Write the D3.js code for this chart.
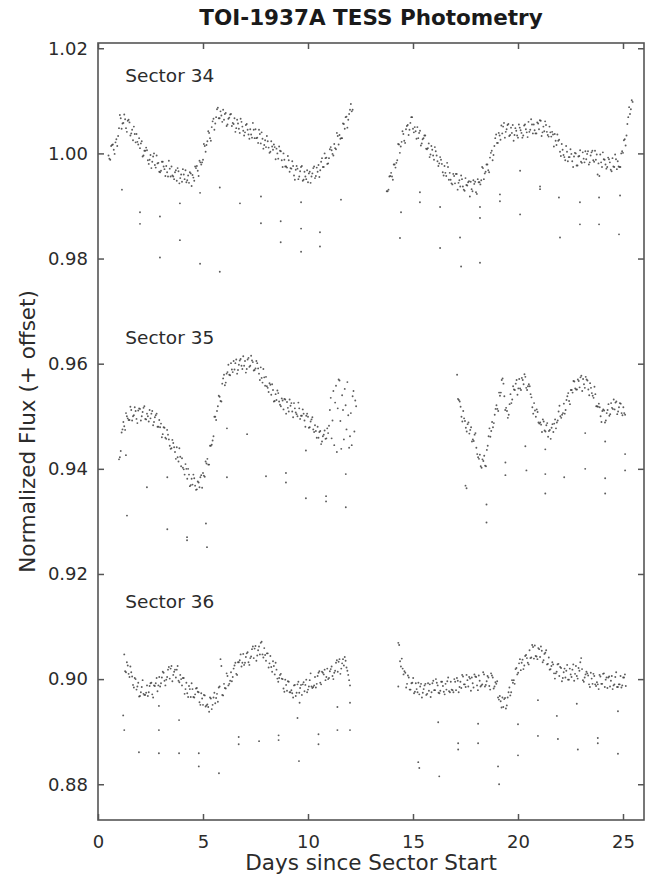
<!DOCTYPE html>
<html>
<head>
<meta charset="utf-8">
<script src="https://cdn.jsdelivr.net/npm/d3@7/dist/d3.min.js"></script>
<style>
  html, body { margin: 0; padding: 0; background: #ffffff; }
  svg { display: block; }
  text { font-family: "DejaVu Sans", sans-serif; }
</style>
</head>
<body>
<svg id="chart" width="655" height="878"></svg>
<script>
// TESS light curves of TOI-1937A, three sectors stacked with flux offsets.
// Each orbit is stored as two interleaved cadence series (A and B, half a step apart).
const cadenceDays = 1 / 12;

const sectorNames = ["Sector 34", "Sector 35", "Sector 36"];

// ---------- Sector 34 (no offset) ----------
const s34Orbit1Start = 0.5;
const s34Orbit1FluxA = [
  0.9996,0.9988,1.0016,1.0007,1.0021,1.0014,
  1.0048,1.0067,1.0057,1.0074,1.0048,1.0062,
  1.0059,1.0038,1.0025,1.0037,1.0037,1.0017,
  1.0010,1.0023,0.9996,1.0005,1.0006,0.9980,
  0.9997,0.9984,1.0000,0.9973,0.9981,0.9965,
  0.9967,0.9984,0.9970,0.9976,0.9956,0.9971,
  0.9975,0.9956,0.9964,0.9948,0.9966,0.9953,
  0.9946,0.9960,0.9968,0.9949,0.9944,0.9962,
  0.9959,0.9948,0.9972,0.9967,0.9986,0.9979,
  0.9988,1.0014,1.0016,1.0042,1.0029,1.0050,
  1.0066,1.0057,1.0084,1.0067,1.0080,1.0060,
  1.0064,1.0077,1.0055,1.0068,1.0075,1.0058,
  1.0067,1.0048,1.0057,1.0039,1.0060,1.0043,
  1.0040,1.0056,1.0036,1.0046,1.0030,1.0045,
  1.0046,1.0030,1.0045,1.0019,1.0028,1.0016,
  1.0012,1.0023,1.0001,1.0023,1.0007,1.0012,
  1.0009,0.9990,1.0005,0.9987,1.0000,0.9975,
  0.9973,0.9987,0.9972,0.9985,0.9958,0.9969,
  0.9971,0.9956,0.9974,0.9948,0.9965,0.9951,
  0.9945,0.9965,0.9956,0.9972,0.9953,0.9973,
  0.9978,0.9968,0.9991,0.9974,0.9991,0.9980,
  0.9991,1.0012,0.9999,1.0018,1.0008,1.0033,
  1.0035,1.0029,1.0057,1.0047,1.0070,1.0064,
  1.0083,1.0080
];
const s34Orbit1FluxB = [
  0.9990,1.0014,1.0017,0.9999,1.0027,1.0033,
  1.0073,1.0047,1.0058,1.0065,1.0041,1.0064,
  1.0034,1.0045,1.0051,1.0021,1.0022,1.0029,
  1.0019,0.9994,1.0005,1.0011,0.9987,0.9988,
  0.9972,0.9994,0.9978,0.9996,0.9982,0.9964,
  0.9984,0.9975,0.9957,0.9964,0.9986,0.9956,
  0.9958,0.9951,0.9968,0.9972,0.9943,0.9960,
  0.9970,0.9951,0.9945,0.9958,0.9964,0.9938,
  0.9954,0.9975,0.9976,0.9957,0.9983,0.9983,
  1.0018,1.0003,1.0023,1.0039,1.0024,1.0061,
  1.0045,1.0069,1.0087,1.0067,1.0072,1.0083,
  1.0075,1.0052,1.0066,1.0074,1.0052,1.0056,
  1.0041,1.0064,1.0047,1.0066,1.0051,1.0034,
  1.0054,1.0045,1.0028,1.0036,1.0058,1.0029,
  1.0029,1.0020,1.0037,1.0040,1.0009,1.0025,
  1.0033,1.0011,1.0003,1.0013,1.0017,0.9989,
  1.0000,1.0013,1.0004,0.9974,0.9988,0.9975,
  0.9995,0.9965,0.9971,0.9976,0.9950,0.9976,
  0.9951,0.9966,0.9976,0.9950,0.9956,0.9968,
  0.9962,0.9944,0.9962,0.9975,0.9957,0.9965,
  0.9955,0.9984,0.9974,1.0000,0.9992,0.9981,
  1.0008,1.0006,0.9996,1.0010,1.0039,1.0017,
  1.0028,1.0029,1.0056,1.0069,1.0049,1.0075,
  1.0094,1.0083
];
const s34Orbit2Start = 13.75;
const s34Orbit2FluxA = [
  0.9928,0.9931,0.9957,0.9956,0.9979,0.9973,
  0.9987,1.0017,1.0013,1.0042,1.0024,1.0046,
  1.0054,1.0045,1.0069,1.0047,1.0050,1.0028,
  1.0029,1.0043,1.0019,1.0029,1.0034,1.0008,
  1.0019,0.9998,1.0007,0.9988,1.0004,0.9985,
  0.9981,0.9988,0.9964,0.9976,0.9957,0.9974,
  0.9963,0.9943,0.9961,0.9943,0.9961,0.9944,
  0.9937,0.9951,0.9931,0.9953,0.9939,0.9947,
  0.9946,0.9928,0.9942,0.9926,0.9951,0.9945,
  0.9949,0.9972,0.9962,0.9979,0.9968,0.9992,
  1.0005,0.9997,1.0029,1.0020,1.0039,1.0026,
  1.0038,1.0058,1.0041,1.0054,1.0033,1.0049,
  1.0054,1.0035,1.0043,1.0030,1.0049,1.0039,
  1.0034,1.0055,1.0040,1.0060,1.0045,1.0055,
  1.0055,1.0038,1.0059,1.0046,1.0062,1.0040,
  1.0042,1.0054,1.0035,1.0051,1.0032,1.0036,
  1.0037,1.0016,1.0024,1.0003,1.0018,0.9997,
  0.9987,1.0003,0.9993,1.0008,0.9985,0.9994,
  1.0000,0.9977,0.9995,0.9984,1.0002,0.9983,
  0.9989,1.0004,0.9983,1.0002,0.9987,1.0005,
  0.9998,0.9981,0.9998,0.9974,0.9989,0.9979,
  0.9974,0.9989,0.9969,0.9991,0.9974,0.9989,
  0.9985,0.9974,1.0000,1.0001,1.0027,1.0034,
  1.0069,1.0075,1.0101
];
const s34Orbit2FluxB = [
  0.9928,0.9956,0.9963,0.9950,0.9979,0.9982,
  1.0018,1.0001,1.0022,1.0037,1.0020,1.0052,
  1.0035,1.0058,1.0069,1.0040,1.0042,1.0050,
  1.0039,1.0015,1.0027,1.0034,1.0009,1.0010,
  0.9993,1.0014,0.9996,1.0012,0.9996,0.9976,
  0.9993,0.9980,0.9958,0.9963,0.9982,0.9950,
  0.9950,0.9941,0.9957,0.9961,0.9931,0.9949,
  0.9958,0.9937,0.9929,0.9940,0.9945,0.9918,
  0.9932,0.9949,0.9946,0.9923,0.9945,0.9941,
  0.9974,0.9951,0.9965,0.9979,0.9964,1.0001,
  0.9987,1.0014,1.0036,1.0020,1.0034,1.0053,
  1.0051,1.0030,1.0046,1.0056,1.0035,1.0039,
  1.0024,1.0048,1.0034,1.0055,1.0044,1.0030,
  1.0053,1.0046,1.0031,1.0041,1.0065,1.0038,
  1.0044,1.0038,1.0057,1.0063,1.0033,1.0051,
  1.0061,1.0041,1.0032,1.0040,1.0041,1.0013,
  1.0024,1.0036,1.0026,0.9995,1.0007,0.9993,
  1.0014,0.9985,0.9993,0.9999,0.9974,1.0001,
  0.9977,0.9994,1.0006,0.9982,0.9990,1.0004,
  0.9999,0.9979,0.9996,1.0005,0.9984,0.9988,
  0.9960,0.9957,0.9983,1.0002,0.9988,0.9971,
  0.9992,0.9983,0.9966,0.9975,0.9998,0.9970,
  0.9975,0.9974,1.0004,1.0025,1.0015,1.0056,
  1.0088,1.0084,1.0098
];
const s34OutlierDays = [1.14, 2.0, 2.0, 2.95, 2.95, 3.9, 3.9, 4.86, 4.86, 5.8, 5.8, 6.76,
  7.76, 7.76, 8.7, 8.7, 9.67, 9.67, 9.67, 10.57, 10.57, 11.57,
  14.43, 14.38, 15.33, 15.33, 16.29, 16.29, 17.24, 17.29, 18.19, 18.19, 18.19,
  19.14, 19.14, 20.1, 20.1, 21.05, 21.05, 21.95, 22.0, 22.95, 22.95,
  23.86, 23.86, 24.86, 24.81];
const s34OutlierFlux = [0.9931, 0.9888, 0.9866, 0.9880, 0.9802, 0.9905, 0.9835, 0.9925, 0.9790, 0.9935, 0.9775, 0.9905,
  0.9918, 0.9867, 0.9871, 0.9831, 0.9907, 0.9857, 0.9813, 0.9850, 0.9823, 0.9912,
  0.9888, 0.9839, 0.9926, 0.9907, 0.9898, 0.9820, 0.9840, 0.9785, 0.9898, 0.9877, 0.9792,
  0.9922, 0.9909, 0.9967, 0.9884, 0.9937, 0.9932, 0.9916, 0.9840, 0.9907, 0.9865,
  0.9916, 0.9865, 0.9920, 0.9846];

// ---------- Sector 35 (offset -0.05) ----------
const s35Orbit1Start = 1.0;
const s35Orbit1FluxA = [
  0.9418,0.9434,0.9475,0.9481,0.9506,0.9496,
  0.9493,0.9512,0.9500,0.9517,0.9495,0.9511,
  0.9514,0.9500,0.9516,0.9495,0.9505,0.9490,
  0.9496,0.9510,0.9489,0.9502,0.9480,0.9493,
  0.9486,0.9466,0.9478,0.9457,0.9465,0.9444,
  0.9439,0.9449,0.9432,0.9441,0.9414,0.9423,
  0.9420,0.9399,0.9409,0.9381,0.9389,0.9369,
  0.9370,0.9382,0.9360,0.9376,0.9365,0.9388,
  0.9392,0.9385,0.9410,0.9408,0.9444,0.9446,
  0.9462,0.9499,0.9510,0.9539,0.9529,0.9562,
  0.9579,0.9564,0.9584,0.9579,0.9601,0.9584,
  0.9589,0.9608,0.9588,0.9606,0.9596,0.9614,
  0.9605,0.9590,0.9611,0.9596,0.9606,0.9587,
  0.9591,0.9601,0.9581,0.9593,0.9564,0.9574,
  0.9575,0.9554,0.9563,0.9541,0.9550,0.9529,
  0.9531,0.9544,0.9522,0.9534,0.9513,0.9532,
  0.9527,0.9509,0.9520,0.9509,0.9525,0.9507,
  0.9500,0.9515,0.9501,0.9513,0.9492,0.9501,
  0.9499,0.9479,0.9494,0.9475,0.9483,0.9459,
  0.9459,0.9472,0.9452,0.9465,0.9457,0.9477,
  0.9482,0.9535,0.9492,0.9445,0.9558,0.9515,
  0.9568,0.9438,0.9512,0.9552,0.9475,0.9502,
  0.9462,0.9445,0.9548,0.9530
];
const s35Orbit1FluxB = [
  0.9422,0.9469,0.9489,0.9474,0.9500,0.9493,
  0.9518,0.9492,0.9502,0.9510,0.9487,0.9515,
  0.9492,0.9508,0.9519,0.9494,0.9500,0.9512,
  0.9505,0.9483,0.9498,0.9505,0.9480,0.9479,
  0.9460,0.9479,0.9459,0.9474,0.9456,0.9438,
  0.9455,0.9441,0.9419,0.9422,0.9439,0.9405,
  0.9402,0.9389,0.9400,0.9400,0.9367,0.9381,
  0.9389,0.9368,0.9361,0.9374,0.9384,0.9364,
  0.9387,0.9414,0.9419,0.9408,0.9444,0.9454,
  0.9499,0.9493,0.9519,0.9537,0.9528,0.9572,
  0.9559,0.9581,0.9598,0.9578,0.9589,0.9605,
  0.9601,0.9581,0.9598,0.9609,0.9590,0.9596,
  0.9583,0.9608,0.9594,0.9615,0.9603,0.9588,
  0.9605,0.9591,0.9569,0.9573,0.9590,0.9558,
  0.9557,0.9546,0.9560,0.9561,0.9528,0.9542,
  0.9549,0.9528,0.9519,0.9530,0.9533,0.9505,
  0.9516,0.9532,0.9525,0.9498,0.9515,0.9504,
  0.9526,0.9495,0.9501,0.9505,0.9480,0.9505,
  0.9478,0.9490,0.9498,0.9470,0.9472,0.9480,
  0.9470,0.9447,0.9462,0.9473,0.9458,0.9468,
  0.9512,0.9458,0.9548,0.9526,0.9432,0.9570,
  0.9491,0.9540,0.9456,0.9521,0.9565,0.9440,
  0.9506,0.9538,0.9471,0.9519
];
const s35Orbit2Start = 17.1;
const s35Orbit2FluxA = [
  0.9579,0.9531,0.9518,0.9490,0.9496,0.9478,
  0.9485,0.9467,0.9479,0.9456,0.9465,0.9440,
  0.9422,0.9427,0.9402,0.9415,0.9406,0.9436,
  0.9462,0.9461,0.9489,0.9487,0.9514,0.9514,
  0.9545,0.9545,0.9572,0.9538,0.9516,0.9497,
  0.9523,0.9525,0.9557,0.9550,0.9569,0.9553,
  0.9553,0.9573,0.9561,0.9575,0.9550,0.9561,
  0.9542,0.9517,0.9525,0.9499,0.9508,0.9486,
  0.9484,0.9494,0.9473,0.9483,0.9461,0.9474,
  0.9478,0.9470,0.9494,0.9488,0.9509,0.9500,
  0.9503,0.9524,0.9512,0.9538,0.9529,0.9550,
  0.9545,0.9566,0.9551,0.9570,0.9555,0.9577,
  0.9571,0.9554,0.9570,0.9551,0.9563,0.9544,
  0.9535,0.9542,0.9519,0.9524,0.9500,0.9510,
  0.9511,0.9492,0.9512,0.9501,0.9525,0.9514,
  0.9513,0.9528,0.9509,0.9525,0.9506,0.9517,
  0.9503
];
const s35Orbit2FluxB = [
  0.9533,0.9528,0.9499,0.9510,0.9491,0.9471,
  0.9488,0.9474,0.9452,0.9453,0.9468,0.9428,
  0.9419,0.9405,0.9418,0.9425,0.9405,0.9444,
  0.9477,0.9472,0.9479,0.9503,0.9521,0.9510,
  0.9539,0.9569,0.9562,0.9512,0.9510,0.9503,
  0.9542,0.9532,0.9551,0.9562,0.9541,0.9571,
  0.9550,0.9569,0.9580,0.9554,0.9557,0.9557,
  0.9536,0.9505,0.9511,0.9513,0.9488,0.9488,
  0.9470,0.9490,0.9471,0.9487,0.9472,0.9457,
  0.9485,0.9486,0.9477,0.9492,0.9520,0.9497,
  0.9506,0.9505,0.9531,0.9544,0.9523,0.9550,
  0.9567,0.9553,0.9551,0.9567,0.9574,0.9548,
  0.9561,0.9575,0.9568,0.9540,0.9554,0.9539,
  0.9556,0.9519,0.9518,0.9517,0.9489,0.9513,
  0.9488,0.9506,0.9523,0.9504,0.9516,0.9532,
  0.9526,0.9504,0.9517,0.9524,0.9502,0.9506
];
const s35OutlierDays = [1.33, 1.38, 2.33, 3.3, 3.3, 4.24, 4.24, 5.14, 5.19, 6.14, 6.14, 7.1,
  8.0, 8.95, 8.95, 9.9, 9.9, 10.86, 10.86, 11.8, 11.8,
  17.5, 17.55, 18.5, 18.5, 19.4, 19.4, 20.35, 20.4, 21.3, 21.3, 21.3, 22.2,
  23.2, 23.2, 24.15, 24.15, 24.15, 25.1, 25.1];
const s35OutlierFlux = [0.9426, 0.9311, 0.9365, 0.9384, 0.9285, 0.9270, 0.9264, 0.9296, 0.9251, 0.9477, 0.9384, 0.9466,
  0.9386, 0.9392, 0.9374, 0.9344, 0.9435, 0.9348, 0.9338, 0.9390, 0.9327,
  0.9368, 0.9363, 0.9332, 0.9298, 0.9412, 0.9388, 0.9443, 0.9397, 0.9437, 0.9390, 0.9353, 0.9384,
  0.9468, 0.9400, 0.9452, 0.9382, 0.9353, 0.9428, 0.9397];

// ---------- Sector 36 (offset -0.10) ----------
const s36Orbit1Start = 1.25;
const s36Orbit1FluxA = [
  0.9047,0.9013,0.9026,0.9004,0.9013,0.8989,
  0.9002,0.8980,0.8993,0.8968,0.8985,0.8972,
  0.8970,0.8988,0.8975,0.8992,0.8971,0.8988,
  0.8992,0.8977,0.9004,0.8992,0.9014,0.8997,
  0.8999,0.9018,0.9001,0.9025,0.9008,0.9018,
  0.9018,0.8997,0.9008,0.8988,0.9002,0.8981,
  0.8973,0.8987,0.8966,0.8981,0.8965,0.8982,
  0.8976,0.8956,0.8973,0.8951,0.8969,0.8950,
  0.8947,0.8965,0.8943,0.8965,0.8954,0.8972,
  0.8984,0.9038,0.8970,0.8991,0.8982,0.9006,
  0.8991,0.9013,0.9004,0.9026,0.9010,0.9032,
  0.9036,0.9024,0.9048,0.9031,0.9049,0.9032,
  0.9040,0.9057,0.9040,0.9063,0.9045,0.9062,
  0.9069,0.9047,0.9059,0.9035,0.9049,0.9030,
  0.9023,0.9034,0.9009,0.9018,0.8995,0.9008,
  0.9001,0.8982,0.8999,0.8978,0.8995,0.8975,
  0.8973,0.8988,0.8968,0.8990,0.8974,0.8989,
  0.8990,0.8977,0.8999,0.8980,0.8998,0.8986,
  0.8985,0.9004,0.8991,0.9012,0.8993,0.9014,
  0.9009,0.8998,0.9020,0.9002,0.9019,0.9006,
  0.9012,0.9031,0.9014,0.9038,0.9020,0.9038,
  0.9042,0.9022,0.9008,0.8988
];
const s36Orbit1FluxB = [
  0.9015,0.9032,0.9010,0.9024,0.9005,0.8984,
  0.9000,0.8986,0.8967,0.8975,0.8998,0.8970,
  0.8974,0.8968,0.8987,0.8993,0.8965,0.8987,
  0.9002,0.8988,0.8986,0.9003,0.9012,0.8988,
  0.9004,0.9023,0.9020,0.8996,0.9014,0.9003,
  0.9025,0.8994,0.9000,0.9002,0.8972,0.8993,
  0.8966,0.8981,0.8992,0.8966,0.8971,0.8983,
  0.8975,0.8951,0.8963,0.8970,0.8948,0.8952,
  0.8938,0.8963,0.8951,0.8974,0.8964,0.8957,
  0.8986,0.9025,0.8969,0.8983,0.9011,0.8988,
  0.8997,0.8996,0.9020,0.9031,0.9008,0.9032,
  0.9047,0.9031,0.9027,0.9042,0.9051,0.9027,
  0.9043,0.9062,0.9058,0.9035,0.9055,0.9047,
  0.9071,0.9041,0.9046,0.9049,0.9022,0.9044,
  0.9014,0.9025,0.9031,0.9001,0.9002,0.9010,
  0.9000,0.8976,0.8989,0.8996,0.8975,0.8979,
  0.8965,0.8989,0.8974,0.8995,0.8983,0.8970,
  0.8994,0.8989,0.8975,0.8986,0.9011,0.8983,
  0.8988,0.8984,0.9006,0.9015,0.8990,0.9012,
  0.9018,0.9004,0.9000,0.9015,0.9024,0.9000,
  0.9016,0.9036,0.9033,0.9010,0.9030,0.9026,
  0.9035,0.9016,0.8998
];
const s36Orbit2Start = 14.3;
const s36Orbit2FluxA = [
  0.9069,0.9034,0.9039,0.9009,0.9012,0.8991,
  0.9003,0.8980,0.8993,0.8973,0.8992,0.8975,
  0.8971,0.8991,0.8974,0.8988,0.8970,0.8992,
  0.8990,0.8975,0.8997,0.8979,0.8993,0.8974,
  0.8978,0.8995,0.8976,0.8991,0.8996,0.8977,
  0.8995,0.8979,0.9000,0.8979,0.8997,0.8985,
  0.8983,0.9005,0.8990,0.9008,0.8986,0.9001,
  0.9003,0.8984,0.9005,0.8988,0.9007,0.8986,
  0.8990,0.9009,0.8989,0.9006,0.8987,0.9011,
  0.9003,0.8986,0.8991,0.8965,0.8968,0.8946,
  0.8947,0.8964,0.8950,0.8975,0.8969,0.8998,
  0.8998,0.9019,0.9009,0.9030,0.9017,0.9037,
  0.9026,0.9046,0.9031,0.9055,0.9041,0.9061,
  0.9064,0.9043,0.9059,0.9042,0.9054,0.9036,
  0.9050,0.9028,0.9041,0.9019,0.9032,0.9011,
  0.9011,0.9028,0.9006,0.9021,0.9002,0.9020,
  0.9016,0.8999,0.9020,0.9004,0.9028,0.9010,
  0.9006,0.9021,0.9032,0.9019,0.8995,0.9009,
  0.9011,0.8990,0.9012,0.8991,0.9006,0.8987,
  0.8990,0.9008,0.8991,0.9010,0.8985,0.9003,
  0.9003,0.8986,0.9006,0.8988,0.9004,0.8985,
  0.8990,0.9006,0.8988,0.9003,0.8987
];
const s36Orbit2FluxB = [
  0.9065,0.9024,0.9020,0.9015,0.8984,0.9007,
  0.8980,0.8992,0.9002,0.8976,0.8981,0.8993,
  0.8986,0.8965,0.8981,0.8991,0.8972,0.8978,
  0.8966,0.8992,0.8979,0.9000,0.8988,0.8973,
  0.8995,0.8987,0.8971,0.8980,0.9003,0.8975,
  0.8980,0.8975,0.8995,0.9002,0.8975,0.8995,
  0.9008,0.8990,0.8985,0.8998,0.9004,0.8978,
  0.8992,0.9009,0.9004,0.8979,0.8997,0.8988,
  0.9013,0.8986,0.8996,0.9003,0.8980,0.9007,
  0.8982,0.8994,0.8996,0.8961,0.8958,0.8965,
  0.8962,0.8944,0.8965,0.8984,0.8975,0.8993,
  0.8991,0.9021,0.9012,0.9038,0.9031,0.9019,
  0.9044,0.9040,0.9028,0.9040,0.9065,0.9039,
  0.9044,0.9038,0.9057,0.9062,0.9032,0.9048,
  0.9055,0.9029,0.9018,0.9025,0.9028,0.9001,
  0.9014,0.9029,0.9023,0.8996,0.9013,0.9003,
  0.9027,0.8999,0.9009,0.9018,0.8997,0.9025,
  0.9001,0.9016,0.9040,0.8998,0.9003,0.9014,
  0.9007,0.8985,0.9001,0.9010,0.8990,0.8994,
  0.8981,0.9005,0.8991,0.9011,0.8999,0.8983,
  0.9005,0.8997,0.8981,0.8990,0.9013,0.8985,
  0.8990,0.8984,0.9003,0.9009
];
const s36OutlierDays = [1.2, 1.25, 1.95, 2.9, 2.9, 2.9, 3.86, 3.86, 4.8, 4.8, 5.76, 6.7, 6.7,
  7.67, 8.6, 8.6, 9.5, 9.57, 9.6, 10.5, 10.5, 11.4, 11.4, 12.0, 12.0,
  14.3, 15.25, 15.3, 16.2, 16.25, 17.15, 17.15, 18.1, 18.1, 19.05, 19.1,
  20.0, 20.0, 20.95, 20.95, 21.85, 21.9, 22.8, 22.85, 23.8, 23.8, 24.76, 24.76];
const s36OutlierFlux = [0.8931, 0.8903, 0.8861, 0.8949, 0.8903, 0.8859, 0.8922, 0.8859, 0.8859, 0.8834, 0.8821, 0.8890, 0.8876,
  0.8882, 0.8893, 0.8884, 0.8926, 0.8844, 0.8955, 0.8895, 0.8876, 0.8947, 0.8903, 0.8955, 0.8903,
  0.8986, 0.8842, 0.8831, 0.8918, 0.8815, 0.8878, 0.8866, 0.8915, 0.8878, 0.8834, 0.8800,
  0.8914, 0.8855, 0.8960, 0.8892, 0.8930, 0.8886, 0.8953, 0.8866, 0.8888, 0.8878, 0.8939, 0.8858];

const xTickValues = [0, 5, 10, 15, 20, 25];
const yTickValues = [0.88, 0.90, 0.92, 0.94, 0.96, 0.98, 1.00, 1.02];

// ---------- point list ----------
function orbitPoints(start, fluxes, phase) {
  return fluxes.map((f, i) => ({ t: start + (i + phase) * cadenceDays, f }));
}
function pairPoints(days, fluxes) {
  return days.map((t, i) => ({ t, f: fluxes[i] }));
}
const points = [].concat(
  orbitPoints(s34Orbit1Start, s34Orbit1FluxA, 0),
  orbitPoints(s34Orbit1Start, s34Orbit1FluxB, 0.5),
  orbitPoints(s34Orbit2Start, s34Orbit2FluxA, 0),
  orbitPoints(s34Orbit2Start, s34Orbit2FluxB, 0.5),
  pairPoints(s34OutlierDays, s34OutlierFlux),
  orbitPoints(s35Orbit1Start, s35Orbit1FluxA, 0),
  orbitPoints(s35Orbit1Start, s35Orbit1FluxB, 0.5),
  orbitPoints(s35Orbit2Start, s35Orbit2FluxA, 0),
  orbitPoints(s35Orbit2Start, s35Orbit2FluxB, 0.5),
  pairPoints(s35OutlierDays, s35OutlierFlux),
  orbitPoints(s36Orbit1Start, s36Orbit1FluxA, 0),
  orbitPoints(s36Orbit1Start, s36Orbit1FluxB, 0.5),
  orbitPoints(s36Orbit2Start, s36Orbit2FluxA, 0),
  orbitPoints(s36Orbit2Start, s36Orbit2FluxB, 0.5),
  pairPoints(s36OutlierDays, s36OutlierFlux)
);

// ---------- layout ----------
const svg = d3.select("#chart");
const margin = { left: 98, top: 43, right: 11, bottom: 58 };
const W = 655, H = 878;
const plotW = W - margin.left - margin.right;
const plotH = H - margin.top - margin.bottom;

const x = d3.scaleLinear().domain([0, 26]).range([0, plotW]);
const y = d3.scaleLinear().domain([0.8732, 1.0210]).range([plotH, 0]);

const g = svg.append("g").attr("transform", `translate(${margin.left},${margin.top})`);

const axisColor = "#555555";
const textColor = "#2b2b2b";

// data points
g.append("g")
  .selectAll("circle")
  .data(points)
  .join("circle")
  .attr("cx", d => x(d.t))
  .attr("cy", d => y(d.f))
  .attr("r", 0.95)
  .attr("fill", "#404040")
  .attr("fill-opacity", 0.85);

// axes with inward ticks on all four sides
function styleAxis(sel) {
  sel.select(".domain").remove();
  sel.selectAll(".tick line").attr("stroke", axisColor).attr("stroke-width", 1.5);
  sel.selectAll(".tick text")
    .attr("fill", textColor)
    .style("font-family", "'DejaVu Sans', sans-serif")
    .style("font-size", "18px");
}

g.append("g")
  .attr("transform", `translate(0,${plotH})`)
  .call(d3.axisBottom(x).tickValues(xTickValues).tickSize(-6).tickPadding(15).tickFormat(d3.format("d")))
  .call(styleAxis);

g.append("g")
  .call(d3.axisTop(x).tickValues(xTickValues).tickSize(-6).tickFormat(""))
  .call(styleAxis);

g.append("g")
  .call(d3.axisLeft(y).tickValues(yTickValues).tickSize(-6).tickPadding(10).tickFormat(d3.format(".2f")))
  .call(styleAxis);

g.append("g")
  .attr("transform", `translate(${plotW},0)`)
  .call(d3.axisRight(y).tickValues(yTickValues).tickSize(-6).tickFormat(""))
  .call(styleAxis);

// frame
g.append("rect")
  .attr("x", 0).attr("y", 0)
  .attr("width", plotW).attr("height", plotH)
  .attr("fill", "none")
  .attr("stroke", axisColor)
  .attr("stroke-width", 1.6);

// sector labels
const sectorLabelFlux = [1.0136, 0.9637, 0.9135];
g.selectAll(".sector-label")
  .data(sectorNames)
  .join("text")
  .attr("class", "sector-label")
  .attr("x", x(1.3))
  .attr("y", (d, i) => y(sectorLabelFlux[i]))
  .attr("fill", textColor)
  .style("font-size", "18.5px")
  .text(d => d);

// axis titles
svg.append("text")
  .attr("x", margin.left + plotW / 2)
  .attr("y", 870)
  .attr("text-anchor", "middle")
  .attr("fill", textColor)
  .style("font-size", "21.5px")
  .text("Days since Sector Start");

svg.append("text")
  .attr("transform", `translate(35,${margin.top + plotH / 2}) rotate(-90)`)
  .attr("text-anchor", "middle")
  .attr("fill", textColor)
  .style("font-size", "21.5px")
  .text("Normalized Flux (+ offset)");

// title
svg.append("text")
  .attr("x", margin.left + plotW / 2)
  .attr("y", 25)
  .attr("text-anchor", "middle")
  .attr("fill", "#1a1a1a")
  .style("font-size", "21.5px")
  .style("font-weight", "bold")
  .text("TOI-1937A TESS Photometry");
</script>
</body>
</html>
